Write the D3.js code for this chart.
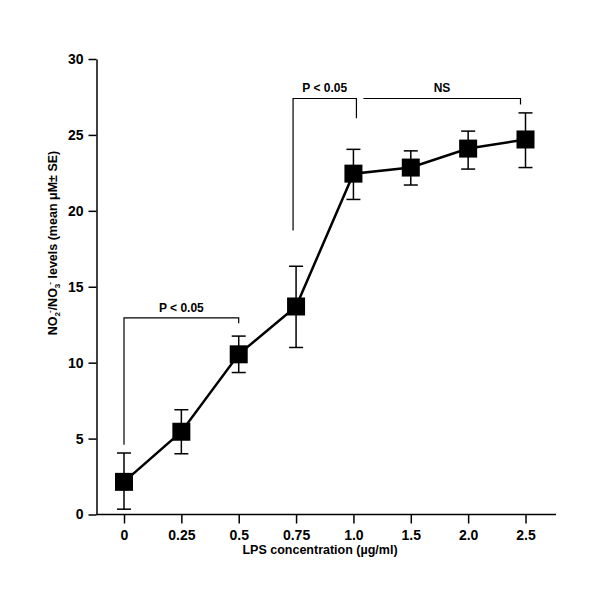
<!DOCTYPE html>
<html><head><meta charset="utf-8">
<script src="https://cdn.jsdelivr.net/npm/d3@7"></script>
<style>body{margin:0;background:#fff;} text{font-family:"Liberation Sans",Arial,sans-serif;font-weight:bold;}</style>
</head><body>
<svg id="chart" width="600" height="609"></svg>
<script>
const categories = ["0","0.25","0.5","0.75","1.0","1.5","2.0","2.5"];
const means = [2.15, 5.45, 10.55, 13.7, 22.45, 22.85, 24.1, 24.7];
const upper = [4.05, 6.9, 11.75, 16.35, 24.05, 23.95, 25.25, 26.45];
const lower = [0.35, 4.0, 9.35, 11.0, 20.75, 21.7, 22.75, 22.85];
const yTicks = [0,5,10,15,20,25,30];
const brackets = [
  {from:"0", to:"0.5", level:12.95, leftEnd:4.6, rightEnd:12.6, label:"P < 0.05"},
  {from:"0.75", to:"1.0", level:27.4, leftEnd:18.7, rightEnd:26.1, label:"P < 0.05"},
  {from:"1.0", to:"2.5", level:27.4, leftEnd:null, rightEnd:27.0, label:"NS"}
];

const svg = d3.select("#chart");
const x = d3.scalePoint().domain(categories).range([124, 525.5]);
const y = d3.scaleLinear().domain([0,30]).range([514.5, 59]);

// axes
const yAxis = svg.append("g").attr("transform","translate(96.5,0)")
  .call(d3.axisLeft(y).tickValues(yTicks).tickSize(8).tickSizeOuter(0).tickPadding(5));
yAxis.selectAll("text").style("font-size","14px").attr("fill","#000");
yAxis.selectAll("line,path").attr("stroke","#000").attr("stroke-width",1.5);

const xAxis = svg.append("g").attr("transform","translate(0,514.5)")
  .call(d3.axisBottom(x).tickSize(9).tickPadding(6.5));
xAxis.select("path.domain").attr("d","M96.5,0H556");
xAxis.selectAll("text").style("font-size","14px").attr("fill","#000");
xAxis.selectAll("line,path").attr("stroke","#000").attr("stroke-width",1.5);

// axis titles
svg.append("text").attr("x",320).attr("y",554).attr("text-anchor","middle")
  .style("font-size","12.5px").text("LPS concentration (µg/ml)");

const yl = svg.append("text").attr("transform","translate(57,243) rotate(-90)")
  .attr("text-anchor","middle").style("font-size","12.5px");
yl.append("tspan").text("NO");
yl.append("tspan").attr("dy",3).style("font-size","8px").text("2");
yl.append("tspan").attr("dy",-8).attr("dx",-1).style("font-size","8px").text("-");
yl.append("tspan").attr("dy",5).text("/NO");
yl.append("tspan").attr("dy",3).style("font-size","8px").text("3");
yl.append("tspan").attr("dy",-8).attr("dx",-1).style("font-size","8px").text("-");
yl.append("tspan").attr("dy",5).text(" levels (mean μM± SE)");

// error bars
const eb = svg.append("g").attr("stroke","#000").attr("stroke-width",1.5);
categories.forEach((c,i)=>{
  const cx = x(c);
  eb.append("line").attr("x1",cx).attr("x2",cx).attr("y1",y(upper[i])).attr("y2",y(lower[i]));
  eb.append("line").attr("x1",cx-7).attr("x2",cx+7).attr("y1",y(upper[i])).attr("y2",y(upper[i]));
  eb.append("line").attr("x1",cx-7).attr("x2",cx+7).attr("y1",y(lower[i])).attr("y2",y(lower[i]));
});

// line
svg.append("path").datum(categories.map((c,i)=>[x(c), y(means[i])]))
  .attr("d", d3.line()).attr("fill","none").attr("stroke","#000").attr("stroke-width",2.5);

// squares
const sq = 18;
svg.append("g").selectAll("rect").data(categories).join("rect")
  .attr("x", c=>x(c)-sq/2).attr("y",(c,i)=>y(means[i])-sq/2)
  .attr("width",sq).attr("height",sq).attr("fill","#000");

// brackets
const bg = svg.append("g").attr("fill","none").attr("stroke","#000").attr("stroke-width",1.2);
brackets.forEach(b=>{
  let x1 = x(b.from), x2 = x(b.to);
  if (b.leftEnd === null) x1 = x(b.from) + 10;
  else if (b.from === "0.75") x1 = x(b.from) - 3;
  if (b.to === "2.5") x2 = x(b.to) - 5;
  if (b.to === "1.0") x2 = x(b.to) + 3;
  const yl0 = y(b.level);
  let d = "";
  if (b.leftEnd !== null) d += `M${x1},${y(b.leftEnd)}V${yl0}`; else d += `M${x1},${yl0}`;
  d += `H${x2}V${y(b.rightEnd)}`;
  bg.append("path").attr("d", d);
  svg.append("text").attr("x",(x1+x2)/2).attr("y", yl0-6).attr("text-anchor","middle")
    .style("font-size","12px").text(b.label);
});
</script>
</body></html>
